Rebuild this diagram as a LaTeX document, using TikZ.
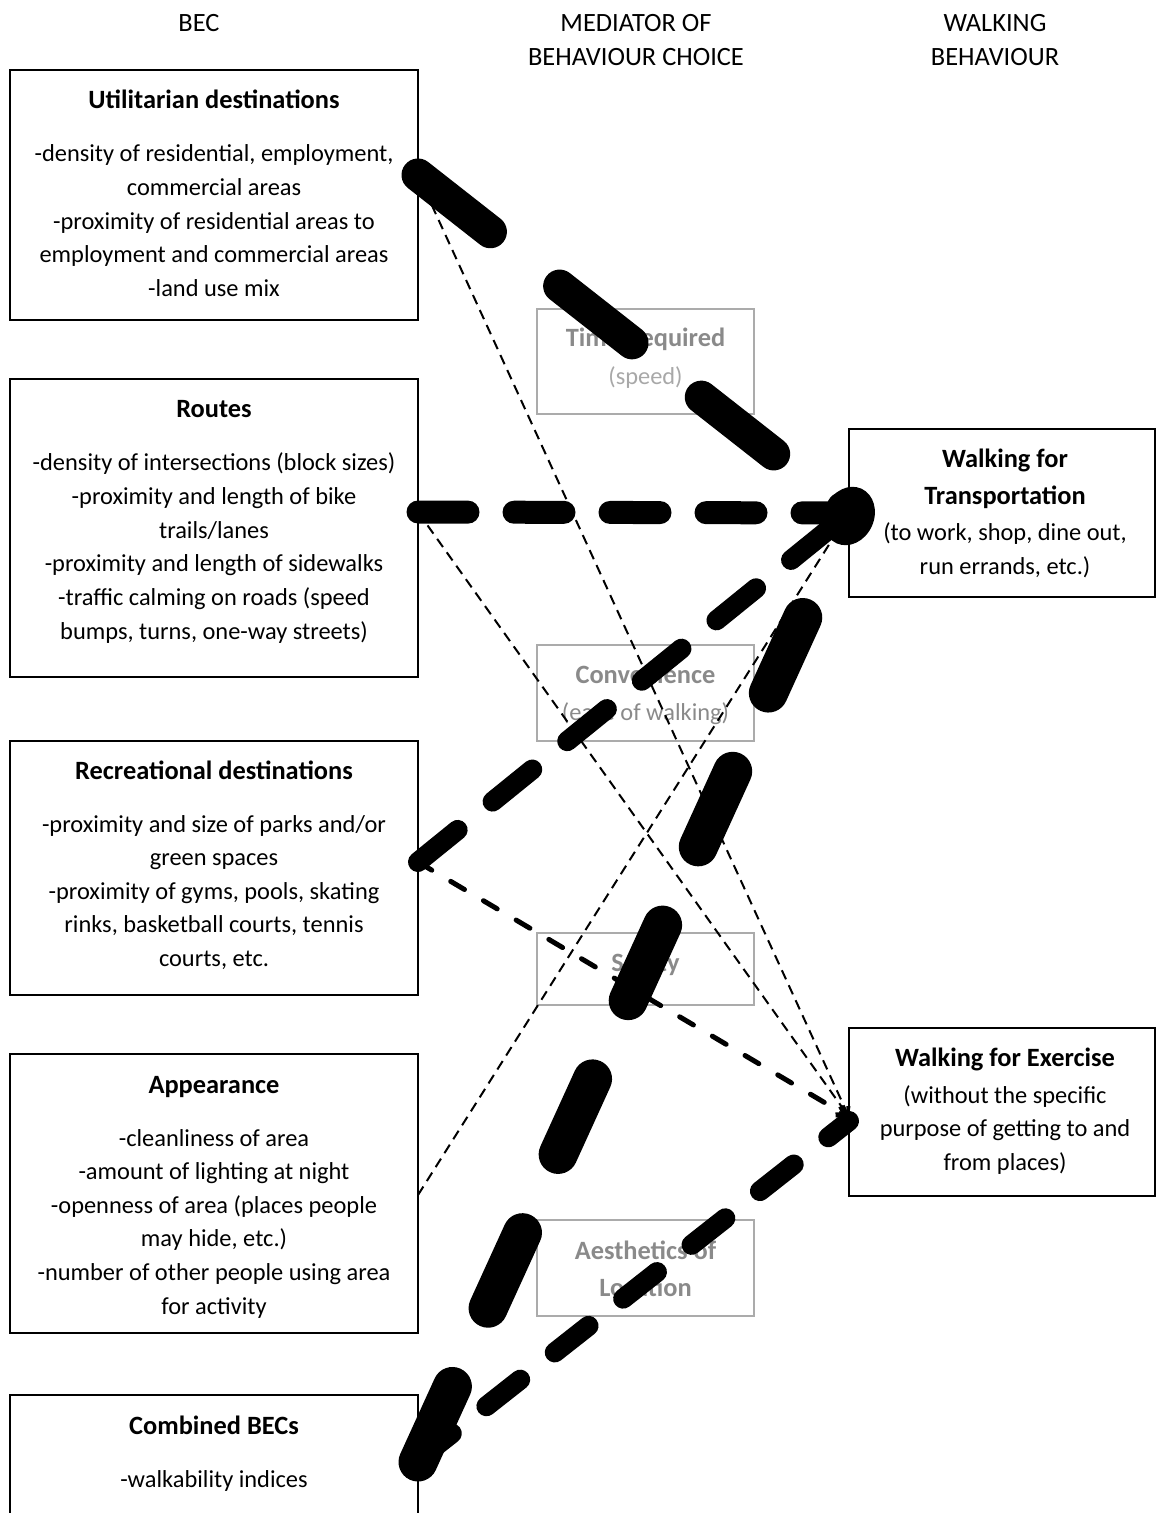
\documentclass[tikz,border=0pt]{standalone}
\usepackage{fontspec}
\setmainfont{Carlito}
\usetikzlibrary{arrows.meta}
\definecolor{medtitle}{HTML}{8A8A8A}
\definecolor{medsub}{HTML}{A8A8A8}
\definecolor{medline}{HTML}{ABABAB}
\newcommand{\boxlines}[2]{\parbox[t]{#1}{\centering #2}}
\newcommand{\headfont}{\fontsize{13.2pt}{16.8pt}\selectfont}
\newcommand{\ttl}[1]{{\headfont\bfseries #1}}
\begin{document}
\begin{tikzpicture}[x=0.5pt,y=-0.5pt,
  every node/.style={inner sep=0pt,outer sep=0pt},
  becbox/.style={draw=black,line width=1pt,rectangle},
  medbox/.style={draw=medline,line width=1pt,rectangle},
  txt/.style={anchor=base,font=\fontsize{12.2pt}{16.8pt}\selectfont},
  headtxt/.style={anchor=base,font=\headfont},
  medtxt/.style={txt,text=medtitle},
  heavyA/.style={line width=16.5pt,line cap=round,dash pattern=on 46pt off 44pt},
  heavyB/.style={line width=11.5pt,line cap=round,dash pattern=on 25pt off 23pt},
  heavyC/.style={line width=10pt,line cap=round,dash pattern=on 25.5pt off 22.5pt},
  heavyD/.style={line width=19.5pt,line cap=round,dash pattern=on 41.5pt off 43pt},
  heavyE/.style={line width=10pt,line cap=round,dash pattern=on 21.5pt off 22pt},
  medium/.style={line width=2.5pt,line cap=round,dash pattern=on 8pt off 11pt},
  fine/.style={line width=1pt,dash pattern=on 5pt off 3.25pt},
  barb/.style={-{Straight Barb[length=4pt,width=5pt]}}
]
\useasboundingbox (0,0) rectangle (1156,1513);
\clip (0,0) rectangle (1156,1513);

% column headings
\node[headtxt] (h-bec) at (199,32) {BEC};
\node[headtxt] (h-med) at (636,32) {\boxlines{150pt}{MEDIATOR OF\\BEHAVIOUR CHOICE}};
\node[headtxt] (h-walk) at (995,32) {\boxlines{150pt}{WALKING\\BEHAVIOUR}};

% built environment characteristics
\node[becbox,minimum width=204pt,minimum height=125pt] (util) at (214,195) {};
\node[txt] (util-t) at (214,109) {\boxlines{200pt}{\ttl{Utilitarian destinations}\\[9.7pt]
  -density of residential, employment,\\ commercial areas\\ -proximity of residential areas to\\
  employment and commercial areas\\ -land use mix}};

\node[becbox,minimum width=204pt,minimum height=149pt] (routes) at (214,528) {};
\node[txt] (routes-t) at (214,418) {\boxlines{200pt}{\ttl{Routes}\\[9.7pt]
  -density of intersections (block sizes)\\ -proximity and length of bike\\ trails/lanes\\
  -proximity and length of sidewalks\\ -traffic calming on roads (speed\\
  bumps, turns, one-way streets)}};

\node[becbox,minimum width=204pt,minimum height=127pt] (rec) at (214,868) {};
\node[txt] (rec-t) at (214,779) {\boxlines{200pt}{\ttl{Recreational destinations}\\[9.7pt]
  -proximity and size of parks and/or\\ green spaces\\ -proximity of gyms, pools, skating\\
  rinks, basketball courts, tennis\\ courts, etc.}};

\node[becbox,minimum width=204pt,minimum height=139.5pt] (app) at (214,1193.5) {};
\node[txt] (app-t) at (214,1093) {\boxlines{200pt}{\ttl{Appearance}\\[9.7pt]
  -cleanliness of area\\ -amount of lighting at night\\ -openness of area (places people\\
  may hide, etc.)\\ -number of other people using area\\ for activity}};

\node[becbox,minimum width=204pt,minimum height=72.5pt] (comb) at (214,1467.5) {};
\node[txt] (comb-t) at (214,1434) {\boxlines{200pt}{\ttl{Combined BECs}\\[9.7pt]
  -walkability indices}};

% mediators
\node[medbox,minimum width=108.5pt,minimum height=52.5pt] (time) at (645.5,361.5) {};
\node[medtxt] (time-t) at (645.5,347) {\boxlines{108pt}{\ttl{Time Required}\\[1.8pt]
  \textcolor{medsub}{(speed)}}};

\node[medbox,minimum width=108.5pt,minimum height=48pt] (conv) at (645.5,693) {};
\node[medtxt] (conv-t) at (645.5,683) {\boxlines{108pt}{\ttl{Convenience}\\[1.8pt]
  (ease of walking)}};

\node[medbox,minimum width=108.5pt,minimum height=36pt] (safe) at (645.5,969) {};
\node[medtxt] (safe-t) at (645.5,971) {\ttl{Safety}};

\node[medbox,minimum width=108.5pt,minimum height=48pt] (aest) at (645.5,1268) {};
\node[medtxt] (aest-t) at (645.5,1259) {\boxlines{108pt}{\ttl{Aesthetics of}\\[1.8pt]
  \ttl{Location}}};

% walking behaviours
\node[becbox,minimum width=153pt,minimum height=84pt] (trans) at (1002,513) {};
\node[txt] (trans-t) at (1005,467) {\boxlines{150pt}{\ttl{Walking for}\\[1.7pt]
  \ttl{Transportation}\\[1.4pt] (to work, shop, dine out,\\ run errands, etc.)}};

\node[becbox,minimum width=153pt,minimum height=84pt] (exer) at (1002,1112) {};
\node[txt] (exer-t) at (1005,1066) {\boxlines{150pt}{\ttl{Walking for Exercise}\\[1.7pt]
  (without the specific\\ purpose of getting to and\\ from places)}};

% associations
\draw[fine,barb] (util.east |- 0,175) -- (exer.west |- 0,1117);
\draw[fine,barb] (routes.east |- 0,512) -- (exer.west |- 0,1117);
\draw[fine,barb] (app.east |- 0,1195) -- (trans.west);
\draw[medium,barb] (rec.east |- 0,862) -- (exer.west |- 0,1117);

\draw[heavyA] (util.east |- 0,175) -- (trans.west);
\draw[heavyB] (routes.east |- 0,512) -- (trans.west);
\draw[heavyC] (rec.east |- 0,862) -- (trans.west);
\draw[heavyE] (comb.east |- 0,1460) -- (exer.west |- 0,1121);
\draw[heavyD,shorten >=-15pt,-{Circle[length=30pt,width=25pt,line width=0pt]}]
  (comb.east |- 0,1462) -- (trans.west |- 0,516);
\end{tikzpicture}
\end{document}
